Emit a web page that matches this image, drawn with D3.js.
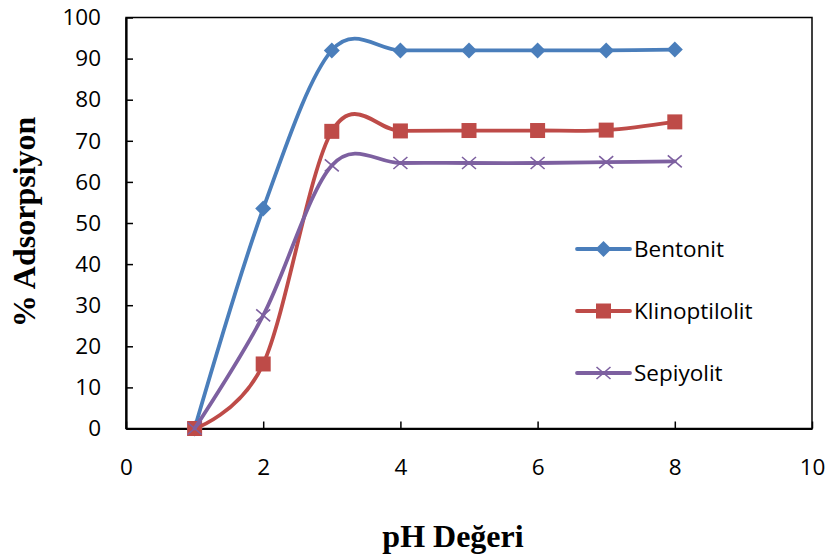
<!DOCTYPE html>
<html><head><meta charset="utf-8">
<script src="https://cdn.jsdelivr.net/npm/d3@7"></script>
<style>body{margin:0;background:#fff}svg{display:block}</style>
</head><body>
<svg id="c" width="826" height="559"></svg>
<script>
const phValues = [1, 2, 3, 4, 5, 6, 7, 8];
const bentonit = [0, 53.5, 92, 92, 92, 92, 92, 92.2];
const klinoptilolit = [0, 15.7, 72.3, 72.4, 72.5, 72.5, 72.6, 74.6];
const sepiyolit = [0, 27.5, 64, 64.6, 64.6, 64.6, 64.8, 65];
const seriesNames = ["Bentonit", "Klinoptilolit", "Sepiyolit"];
const xTicks = [0, 2, 4, 6, 8, 10];
const yTicks = [0, 10, 20, 30, 40, 50, 60, 70, 80, 90, 100];

const colors = ["#4A7EBB", "#BE4B48", "#7D60A0"];
const markers = ["diamond", "square", "x"];
const seriesData = [bentonit, klinoptilolit, sepiyolit];

const svg = d3.select("#c");
const L = 126, R = 812, T = 17.5, B = 428.5;
const x = d3.scaleLinear().domain([0, 10]).range([L, R]);
const y = d3.scaleLinear().domain([0, 100]).range([B, T]);

svg.append("rect").attr("x", L).attr("y", T).attr("width", R - L).attr("height", B - T)
  .attr("fill", "none").attr("stroke", "#000").attr("stroke-width", 1.5);

const labelFont = "'Open Sans', 'Lato', sans-serif";
const labelSize = "22.5px";

const xAxis = svg.append("g").attr("transform", `translate(0,${B})`)
  .call(d3.axisBottom(x).tickValues(xTicks).tickSizeInner(-7).tickSizeOuter(0).tickPadding(24));
const yAxis = svg.append("g").attr("transform", `translate(${L},0)`)
  .call(d3.axisLeft(y).tickValues(yTicks).tickSizeInner(-7).tickSizeOuter(0).tickPadding(24));
[xAxis, yAxis].forEach(g => {
  g.select(".domain").attr("stroke", "#000").attr("stroke-width", 2.2);
  g.selectAll(".tick line").attr("stroke", "#000").attr("stroke-width", 1.5);
  g.selectAll(".tick text").attr("fill", "#000").style("font-family", labelFont).style("font-size", labelSize);
});
xAxis.selectAll(".tick text").attr("y", 31).attr("dy", "0.71em");
yAxis.selectAll(".tick text").attr("x", -25);

svg.append("text").attr("x", 453).attr("y", 547).attr("text-anchor", "middle")
  .style("font-family", "'Liberation Serif', serif").style("font-weight", "bold").style("font-size", "32px")
  .text("pH Değeri");
svg.append("text").attr("transform", "translate(35,222) rotate(-90)").attr("text-anchor", "middle")
  .style("font-family", "'Liberation Serif', serif").style("font-weight", "bold").style("font-size", "32px")
  .text("% Adsorpsiyon");

function drawMarker(g, type, cx, cy, color) {
  if (type === "diamond") {
    g.append("path").attr("d", `M${cx},${cy-8}L${cx+8},${cy}L${cx},${cy+8}L${cx-8},${cy}Z`).attr("fill", color);
  } else if (type === "square") {
    g.append("rect").attr("x", cx - 7.5).attr("y", cy - 7.5).attr("width", 15).attr("height", 15).attr("fill", color);
  } else {
    g.append("path").attr("d", `M${cx-7},${cy-6}L${cx+7},${cy+6}M${cx-7},${cy+6}L${cx+7},${cy-6}`)
      .attr("stroke", color).attr("stroke-width", 1.6).attr("fill", "none");
  }
}

const line = d3.line().x(d => x(d[0])).y(d => y(d[1])).curve(d3.curveCardinal.tension(0));

seriesData.forEach((vals, i) => {
  const pts = phValues.map((p, j) => [p, vals[j]]);
  const g = svg.append("g");
  g.append("path").attr("d", line(pts)).attr("fill", "none").attr("stroke", colors[i])
    .attr("stroke-width", 3.8).attr("stroke-linejoin", "round").attr("stroke-linecap", "round");
  pts.forEach(p => drawMarker(g, markers[i], x(p[0]), y(p[1]), colors[i]));
});

const legY = [249, 311, 373];
seriesNames.forEach((name, i) => {
  const g = svg.append("g");
  g.append("line").attr("x1", 577).attr("x2", 630).attr("y1", legY[i]).attr("y2", legY[i])
    .attr("stroke", colors[i]).attr("stroke-width", 3.8).attr("stroke-linecap", "round");
  drawMarker(g, markers[i], 603.5, legY[i], colors[i]);
  g.append("text").attr("x", 634).attr("y", legY[i]).attr("dy", "0.35em")
    .style("font-family", labelFont).style("font-size", labelSize).attr("fill", "#000").text(name);
});
</script>
</body></html>
